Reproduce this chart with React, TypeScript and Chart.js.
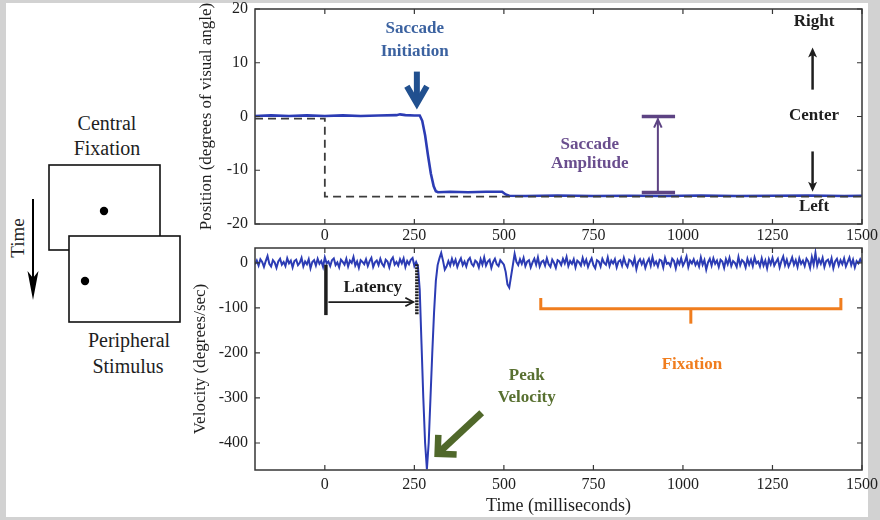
import React, { useEffect, useRef } from "react";
import { Chart, registerables } from "chart.js";

Chart.register(...registerables);

const SERIF = "'Liberation Serif', 'Times New Roman', Times, serif";

// ---------------- data ----------------
const X_MIN = -195;
const X_MAX = 1500;
const X_TICKS = [0, 250, 500, 750, 1000, 1250, 1500];
const POS_Y_TICKS = [-20, -10, 0, 10, 20];
const VEL_Y_TICKS = [-400, -300, -200, -100, 0];

// eye position (deg)
const POS_TIME = [-195, -150, -100, -50, 0, 50, 100, 150, 200, 210, 225, 250, 265, 272, 280, 288, 296, 304, 310, 316, 350, 400, 450, 495, 505, 515, 560, 650, 750, 850, 950, 1050, 1150, 1250, 1350, 1450, 1500];
const POS_EYE = [0.1, 0.2, 0.1, 0.2, 0.1, 0.2, 0.1, 0.2, 0.25, 0.4, 0.25, 0.2, 0.2, -0.8, -3.5, -7.2, -10.6, -13.0, -13.9, -14.1, -14.0, -14.1, -14.0, -14.0, -14.5, -14.75, -14.8, -14.7, -14.8, -14.75, -14.8, -14.7, -14.8, -14.75, -14.7, -14.8, -14.75];

// target position (deg)
const TARGET_TIME = [-195, 0, 0, 1500];
const TARGET_POS = [-0.4, -0.4, -14.9, -14.9];

// eye velocity (deg/s), sampled every 5 ms from -195 ms
const VEL_SAMPLE_START_MS = -195;
const VEL_SAMPLE_STEP_MS = 5;
const VEL_BASELINE = [
  -3, 5, -6, 8, 2, -9, 4, 15, -2, -8, 6, 1, -11, 3, 9, -4, 2, -7, 10, -1,
  5, -10, 4, 7, -5, 0, 11, -8, 3, -3, 8, -12, 2, 6, -6, 9, -2, 4, -9, 12,
  -1, 3, -7, 6, 10, -5, 1, -10, 7, 2, -4, 9, -8, 5, 0, 13, -6, 3, -11, 6,
  2, -3, 8, -7, 4, 11, -9, 1, 5, -5, 9, -2, -8, 7, 3, -10, 6, 12, -4, 2,
  -6, 8, -1, 10, -9, 4, -3, 7, 11, -7, 2,
];
const VEL_SACCADE = [-8, -60, -180, -300, -400, -458, -400, -300, -200, -110, -40, -5, 10, 22, 5, -15, -8];
const VEL_POST_SACCADE = [
  4, -6, 9, -3, 7, -9, 2, 10, -5, 3, -8, 6, 11, -2, -7, 5, 1, -10, 8, -4,
  12, -6, 3, 7, -11, 2, 9, -3, -7, 6, 1,
];
const VEL_CORRECTIVE = [-4, -20, -48, -55, -30, -5, 20, 2];
const VEL_FIXATION = [
  -5, 8, -2, 11, -7, 3, 6, -10, 1, 9, -4, 12, -8, 2, 5, -6, 10, -3, -9, 7,
  0, -11, 6, 3, -5, 9, -1, 13, -7, 4, -2, 8, -10, 5, 1, -6, 11, -3, 7, -9,
  2, 10, -5, -12, 6, 3, -8, 9, 0, -4, 12, -7, 5, -1, 8, -10, 3, 6, -6, 11,
  -2, -9, 7, 4, -5, 10, -14, 2, 8, -3, 6, -11, 1, 9, -6, 13, -4, 3, -8, 7,
  5, -10, 11, -2, 0, -7, 9, 4, -12, 6, -3, 10, -6, 2, 14, -9, 5, -1, 8, -5,
  3, -8, 12, -4, 6, -15, 1, 9, -6, 10, -2, 5, -9, 7, 3, -11, 8, -3, 11, -7,
  4, 0, -9, 13, -5, 6, 2, -10, 9, -4, 7, -7, 12, -1, 3, -8, 10, -6, 5, -12,
  8, -3, 11, -6, 2, 9, -10, 4, 14, -5, 7, -8, 1, 12, -4, 6, -9, 10, -2, 5,
  -7, 9, 3, -11, 13, -4, 22, -6, 8, -2, 11, -9, 4, 7, -5, 10, -12, 3, 9, -6,
  6, -3, 10, -8, 2, 12, -5, 7, -10, 4, -1, 8, 0,
];

// ---------------- styles ----------------
const BLUE = "#2c3cb4";
const AXIS = "#363636";
const TEXT = "#1e1e1e";

type Pt = { x: number; y: number };

function P(chart: any, x: number, y: number): Pt {
  return { x: chart.scales.x.getPixelForValue(x), y: chart.scales.y.getPixelForValue(y) };
}

function seg(ctx: CanvasRenderingContext2D, a: Pt, b: Pt, color: string, width: number, dash: number[] = []) {
  ctx.save();
  ctx.beginPath();
  ctx.setLineDash(dash);
  ctx.moveTo(a.x, a.y);
  ctx.lineTo(b.x, b.y);
  ctx.strokeStyle = color;
  ctx.lineWidth = width;
  ctx.lineCap = "butt";
  ctx.stroke();
  ctx.restore();
}

function poly(ctx: CanvasRenderingContext2D, pts: Pt[], color: string, width: number) {
  ctx.save();
  ctx.beginPath();
  pts.forEach((p, i) => (i ? ctx.lineTo(p.x, p.y) : ctx.moveTo(p.x, p.y)));
  ctx.strokeStyle = color;
  ctx.lineWidth = width;
  ctx.lineJoin = "miter";
  ctx.stroke();
  ctx.restore();
}

function arms(ctx: CanvasRenderingContext2D, tip: Pt, from: Pt, len: number, deg: number, color: string, width: number) {
  const ang = Math.atan2(from.y - tip.y, from.x - tip.x);
  const d = (deg * Math.PI) / 180;
  poly(
    ctx,
    [
      { x: tip.x + len * Math.cos(ang + d), y: tip.y + len * Math.sin(ang + d) },
      tip,
      { x: tip.x + len * Math.cos(ang - d), y: tip.y + len * Math.sin(ang - d) },
    ],
    color,
    width
  );
}

function filledHead(ctx: CanvasRenderingContext2D, tip: Pt, from: Pt, len: number, halfW: number, color: string) {
  const ang = Math.atan2(from.y - tip.y, from.x - tip.x);
  const bx = tip.x + len * Math.cos(ang);
  const by = tip.y + len * Math.sin(ang);
  const nx = -Math.sin(ang);
  const ny = Math.cos(ang);
  ctx.save();
  ctx.beginPath();
  ctx.moveTo(tip.x, tip.y);
  ctx.lineTo(bx + nx * halfW, by + ny * halfW);
  ctx.lineTo(tip.x + len * 0.75 * Math.cos(ang), tip.y + len * 0.75 * Math.sin(ang));
  ctx.lineTo(bx - nx * halfW, by - ny * halfW);
  ctx.closePath();
  ctx.fillStyle = color;
  ctx.fill();
  ctx.restore();
}

function txt(ctx: CanvasRenderingContext2D, s: string, p: Pt, color: string, size = 17) {
  ctx.save();
  ctx.font = `bold ${size}px ${SERIF}`;
  ctx.fillStyle = color;
  ctx.textAlign = "center";
  ctx.textBaseline = "middle";
  ctx.fillText(s, p.x, p.y);
  ctx.restore();
}

const framePlugin = {
  id: "frameTicks",
  afterDatasetsDraw(chart: any) {
    const { ctx, chartArea: a, scales } = chart;
    ctx.save();
    ctx.strokeStyle = AXIS;
    ctx.lineWidth = 1.5;
    ctx.strokeRect(a.left, a.top, a.right - a.left, a.bottom - a.top);
    ctx.lineWidth = 1.2;
    ctx.beginPath();
    scales.x.ticks.forEach((t: any) => {
      const x = scales.x.getPixelForValue(t.value);
      ctx.moveTo(x, a.bottom);
      ctx.lineTo(x, a.bottom - 5);
      ctx.moveTo(x, a.top);
      ctx.lineTo(x, a.top + 5);
    });
    scales.y.ticks.forEach((t: any) => {
      const y = scales.y.getPixelForValue(t.value);
      ctx.moveTo(a.left, y);
      ctx.lineTo(a.left + 5, y);
      ctx.moveTo(a.right, y);
      ctx.lineTo(a.right - 5, y);
    });
    ctx.stroke();
    ctx.restore();
  },
};

const positionNotes = {
  id: "positionNotes",
  afterDatasetsDraw(chart: any) {
    const ctx = chart.ctx as CanvasRenderingContext2D;
    // Saccade initiation
    txt(ctx, "Saccade", P(chart, 251, 16.4), "#3b62a0");
    txt(ctx, "Initiation", P(chart, 251, 12.1), "#3b62a0");
    const tip = P(chart, 257, 2.4);
    seg(ctx, { x: tip.x, y: tip.y - 32 }, { x: tip.x, y: tip.y - 3 }, "#21508f", 6);
    arms(ctx, tip, { x: tip.x, y: tip.y - 10 }, 20, 30, "#21508f", 6);
    // Saccade amplitude
    txt(ctx, "Saccade", P(chart, 740, -5.2), "#6a4e8e");
    txt(ctx, "Amplitude", P(chart, 740, -8.75), "#6a4e8e");
    const purple = "#5d4383";
    seg(ctx, P(chart, 885, 0), P(chart, 978, 0), purple, 3.5);
    seg(ctx, P(chart, 885, -14.15), P(chart, 978, -14.15), purple, 3.5);
    const top = P(chart, 930, 0);
    const bot = P(chart, 930, -14.15);
    seg(ctx, bot, { x: top.x, y: top.y + 2 }, purple, 2);
    arms(ctx, { x: top.x, y: top.y + 3 }, bot, 9, 25, purple, 2);
    // Right / Center / Left
    txt(ctx, "Right", P(chart, 1366, 17.7), TEXT);
    txt(ctx, "Center", P(chart, 1366, 0.2), TEXT);
    txt(ctx, "Left", P(chart, 1366, -16.8), TEXT);
    const upTip = P(chart, 1362, 12.85);
    const upBase = P(chart, 1362, 5.0);
    seg(ctx, upBase, { x: upTip.x, y: upTip.y + 6 }, TEXT, 2.5);
    filledHead(ctx, upTip, upBase, 10, 4.5, TEXT);
    const dnTip = P(chart, 1362, -14.0);
    const dnBase = P(chart, 1362, -6.5);
    seg(ctx, dnBase, { x: dnTip.x, y: dnTip.y - 6 }, TEXT, 2.5);
    filledHead(ctx, dnTip, dnBase, 10, 4.5, TEXT);
  },
};

const velocityNotes = {
  id: "velocityNotes",
  afterDatasetsDraw(chart: any) {
    const ctx = chart.ctx as CanvasRenderingContext2D;
    // Latency
    seg(ctx, P(chart, 3, -4), P(chart, 3, -116), TEXT, 3.5);
    seg(ctx, P(chart, 257, -3), P(chart, 257, -116), TEXT, 3.5, [2, 1]);
    const la = P(chart, 10, -87);
    const lb = P(chart, 247, -87);
    seg(ctx, la, lb, TEXT, 1.8);
    arms(ctx, lb, la, 9, 28, TEXT, 1.8);
    txt(ctx, "Latency", P(chart, 134, -55), TEXT);
    // Fixation bracket
    const orange = "#f07d1e";
    poly(ctx, [P(chart, 603, -78), P(chart, 603, -102), P(chart, 1441, -102), P(chart, 1441, -78)], orange, 3);
    seg(ctx, P(chart, 1022, -101), P(chart, 1022, -135), orange, 3);
    txt(ctx, "Fixation", P(chart, 1025, -227), orange);
    // Peak velocity
    const green = "#587030";
    txt(ctx, "Peak", P(chart, 564, -251), green);
    txt(ctx, "Velocity", P(chart, 564, -300), green);
    const tail = P(chart, 438, -333);
    const gTip = P(chart, 315, -424);
    seg(ctx, tail, gTip, "#50682a", 7);
    arms(ctx, gTip, tail, 19, 45, "#50682a", 6.5);
  },
};

function series(times: number[], values: number[]) {
  return times.map((t, i) => ({ x: t, y: values[i] }));
}

function fixedTicks(list: number[]) {
  return (scale: any) => {
    scale.ticks = list.map((v) => ({ value: v }));
  };
}

const plainLabel = (v: any) => String(v);

function makeOptions(o: {
  yMin: number;
  yMax: number;
  yTicks: number[];
  yTitle: string;
  yTitlePad: number;
  xTitle?: string;
  xHeight: number;
  xPad: number;
  padTop: number;
}) {
  return {
    responsive: false,
    animation: false as const,
    layout: { padding: { top: o.padTop, right: 18, left: 0, bottom: 0 } },
    plugins: { legend: { display: false }, tooltip: { enabled: false } },
    scales: {
      x: {
        type: "linear" as const,
        min: X_MIN,
        max: X_MAX,
        bounds: "data" as const,
        afterBuildTicks: fixedTicks(X_TICKS),
        grid: { display: false, drawTicks: false },
        border: { display: false },
        ticks: {
          color: TEXT,
          padding: o.xPad,
          maxRotation: 0,
          autoSkip: false,
          font: { family: SERIF, size: 16 },
          callback: plainLabel,
        },
        title: {
          display: !!o.xTitle,
          text: o.xTitle || "",
          color: TEXT,
          font: { family: SERIF, size: 18 },
          padding: { top: 0, bottom: 3 },
        },
        afterFit: (s: any) => {
          s.height = o.xHeight;
          s.paddingLeft = 0;
          s.paddingRight = 0;
        },
      },
      y: {
        type: "linear" as const,
        min: o.yMin,
        max: o.yMax,
        bounds: "data" as const,
        afterBuildTicks: fixedTicks(o.yTicks),
        grid: { display: false, drawTicks: false },
        border: { display: false },
        ticks: { color: TEXT, padding: 7, font: { family: SERIF, size: 16 }, callback: plainLabel },
        title: {
          display: true,
          text: o.yTitle,
          color: TEXT,
          font: { family: SERIF, size: 17 },
          padding: { top: o.yTitlePad, bottom: 0 },
        },
        afterFit: (s: any) => {
          s.width = 65;
          s.paddingTop = 0;
          s.paddingBottom = 0;
        },
      },
    },
  };
}

function PositionChart() {
  const ref = useRef<HTMLCanvasElement>(null);
  useEffect(() => {
    const chart = new Chart(ref.current!, {
      type: "line",
      data: {
        datasets: [
          {
            data: series(TARGET_TIME, TARGET_POS),
            borderColor: "#3c3c3c",
            borderWidth: 1.8,
            borderDash: [8, 5],
            pointRadius: 0,
            tension: 0,
            fill: false,
          },
          {
            data: series(POS_TIME, POS_EYE),
            borderColor: BLUE,
            borderWidth: 2.6,
            pointRadius: 0,
            tension: 0,
            fill: false,
          },
        ],
      },
      options: makeOptions({
        yMin: -20,
        yMax: 20,
        yTicks: POS_Y_TICKS,
        yTitle: "Position (degrees of visual angle)",
        yTitlePad: 6,
        xHeight: 21,
        xPad: 2,
        padTop: 9,
      }) as any,
      plugins: [framePlugin, positionNotes],
    });
    return () => chart.destroy();
  }, []);
  return (
    <canvas
      ref={ref}
      width={690}
      height={245}
      style={{ position: "absolute", left: 190, top: 0, width: 690, height: 245 }}
    />
  );
}

function VelocityChart() {
  const ref = useRef<HTMLCanvasElement>(null);
  useEffect(() => {
    const values = [...VEL_BASELINE, ...VEL_SACCADE, ...VEL_POST_SACCADE, ...VEL_CORRECTIVE, ...VEL_FIXATION];
    const times = values.map((_, i) => VEL_SAMPLE_START_MS + i * VEL_SAMPLE_STEP_MS);
    const chart = new Chart(ref.current!, {
      type: "line",
      data: {
        datasets: [
          {
            data: series(times, values),
            borderColor: BLUE,
            borderWidth: 2,
            pointRadius: 0,
            tension: 0,
            fill: false,
          },
        ],
      },
      options: makeOptions({
        yMin: -460,
        yMax: 33,
        yTicks: VEL_Y_TICKS,
        yTitle: "Velocity (degrees/sec)",
        yTitlePad: 0,
        xTitle: "Time (milliseconds)",
        xHeight: 50,
        xPad: 5,
        padTop: 8,
      }) as any,
      plugins: [framePlugin, velocityNotes],
    });
    return () => chart.destroy();
  }, []);
  return (
    <canvas
      ref={ref}
      width={690}
      height={280}
      style={{ position: "absolute", left: 190, top: 240, width: 690, height: 280 }}
    />
  );
}

function StimulusPanel() {
  const f = { fontFamily: SERIF, fontSize: 20, fill: TEXT } as const;
  return (
    <svg width={250} height={520} style={{ position: "absolute", left: 0, top: 0 }}>
      <text x={107} y={130} textAnchor="middle" {...f}>Central</text>
      <text x={107} y={155} textAnchor="middle" {...f}>Fixation</text>
      <rect x={49} y={165} width={111} height={85} fill="#fff" stroke="#111" strokeWidth={1.6} />
      <circle cx={104} cy={211} r={4.2} fill="#000" />
      <rect x={69} y={236} width={111} height={86} fill="#fff" stroke="#111" strokeWidth={1.6} />
      <circle cx={85} cy={281} r={4.2} fill="#000" />
      <text x={129} y={347} textAnchor="middle" {...f}>Peripheral</text>
      <text x={128} y={373} textAnchor="middle" {...f}>Stimulus</text>
      <line x1={33} y1={199} x2={33} y2={285} stroke="#000" strokeWidth={2} />
      <polygon points="33,300 27.5,271 33,278 38.5,271" fill="#000" />
      <text
        transform="translate(17,238) rotate(-90)"
        textAnchor="middle"
        dominantBaseline="central"
        fontFamily={SERIF}
        fontSize={19}
        fill={TEXT}
      >
        Time
      </text>
    </svg>
  );
}

export default function App() {
  return (
    <div style={{ position: "fixed", left: 0, top: 0, width: 880, height: 520, background: "#d2d2d2", overflow: "hidden" }}>
      <div style={{ position: "absolute", left: 6, top: 3, width: 862, height: 514, background: "#fff" }} />
      <StimulusPanel />
      <PositionChart />
      <VelocityChart />
    </div>
  );
}
